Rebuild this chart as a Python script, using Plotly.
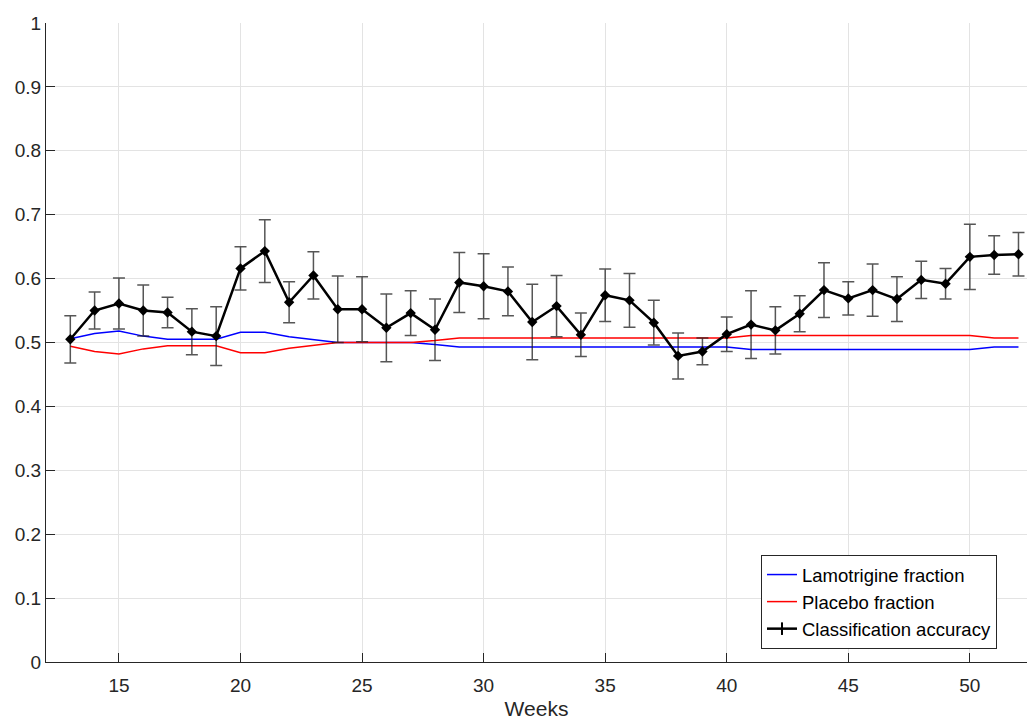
import plotly.graph_objects as go

# Study weeks
weeks = list(range(13, 53))

# Fraction of participants in each arm
lamotrigine_fraction = [
    0.506, 0.514, 0.518, 0.510, 0.505, 0.505, 0.505, 0.516, 0.516, 0.509,
    0.505, 0.500, 0.500, 0.500, 0.500, 0.497, 0.493, 0.493, 0.493, 0.493,
    0.493, 0.493, 0.493, 0.493, 0.493, 0.493, 0.493, 0.493, 0.489, 0.489,
    0.489, 0.489, 0.489, 0.489, 0.489, 0.489, 0.489, 0.489, 0.493, 0.493,
]
placebo_fraction = [
    0.494, 0.486, 0.482, 0.490, 0.495, 0.495, 0.495, 0.484, 0.484, 0.491,
    0.495, 0.500, 0.500, 0.500, 0.500, 0.503, 0.507, 0.507, 0.507, 0.507,
    0.507, 0.507, 0.507, 0.507, 0.507, 0.507, 0.507, 0.507, 0.511, 0.511,
    0.511, 0.511, 0.511, 0.511, 0.511, 0.511, 0.511, 0.511, 0.507, 0.507,
]

# Classification accuracy (mean and error-bar half width)
accuracy = [
    0.505, 0.550, 0.561, 0.550, 0.547, 0.517, 0.510, 0.616, 0.643, 0.563,
    0.605, 0.552, 0.552, 0.523, 0.546, 0.520, 0.594, 0.588, 0.580, 0.532,
    0.557, 0.512, 0.574, 0.566, 0.531, 0.479, 0.486, 0.513, 0.528, 0.519,
    0.545, 0.582, 0.569, 0.582, 0.568, 0.598, 0.592, 0.634, 0.637, 0.638,
]
accuracy_err = [
    0.037, 0.029, 0.040, 0.040, 0.024, 0.036, 0.046, 0.034, 0.049, 0.032,
    0.037, 0.052, 0.051, 0.053, 0.035, 0.048, 0.047, 0.051, 0.038, 0.059,
    0.048, 0.034, 0.041, 0.042, 0.035, 0.036, 0.021, 0.027, 0.053, 0.037,
    0.028, 0.043, 0.026, 0.041, 0.035, 0.029, 0.024, 0.051, 0.030, 0.034,
]

y_ticks = [0, 0.1, 0.2, 0.3, 0.4, 0.5, 0.6, 0.7, 0.8, 0.9, 1]
y_tick_text = ["0", "0.1", "0.2", "0.3", "0.4", "0.5", "0.6", "0.7", "0.8", "0.9", "1"]
x_ticks = [15, 20, 25, 30, 35, 40, 45, 50]

FONT = "Liberation Sans, Arial, Helvetica, sans-serif"
AXIS_COLOR = "#262626"

fig = go.Figure()

fig.add_trace(go.Scatter(
    x=weeks, y=lamotrigine_fraction, mode="lines",
    name="Lamotrigine fraction",
    line=dict(color="#0000ff", width=1.5),
))
fig.add_trace(go.Scatter(
    x=weeks, y=placebo_fraction, mode="lines",
    name="Placebo fraction",
    line=dict(color="#ff0000", width=1.5),
))
fig.add_trace(go.Scatter(
    x=weeks, y=accuracy, mode="lines+markers",
    name="Classification accuracy", showlegend=False,
    line=dict(color="black", width=2.5),
    marker=dict(symbol="diamond", size=8, color="black"),
    error_y=dict(type="data", array=accuracy_err, visible=True,
                 color="rgba(30,30,30,0.75)", thickness=1.5, width=6),
))
# legend entry: line with a small vertical tick
fig.add_trace(go.Scatter(
    x=[None], y=[None], mode="lines+markers",
    name="Classification accuracy",
    line=dict(color="black", width=2.5),
    marker=dict(symbol="line-ns", size=9, color="black",
                line=dict(color="black", width=2)),
))

fig.update_layout(
    width=1027, height=720,
    margin=dict(l=46, r=0, t=23, b=58),
    paper_bgcolor="white", plot_bgcolor="white",
    font=dict(family=FONT, size=19, color=AXIS_COLOR),
    showlegend=True,
    legend=dict(
        x=0.9694, y=0.0203, xanchor="right", yanchor="bottom",
        bgcolor="white", bordercolor=AXIS_COLOR, borderwidth=1,
        font=dict(family=FONT, size=18.5, color="black"),
        itemwidth=30, tracegroupgap=0,
    ),
    xaxis=dict(
        range=[12, 52.35], tickmode="array", tickvals=x_ticks,
        showgrid=True, gridcolor="#e3e3e3", gridwidth=1,
        showline=True, linecolor=AXIS_COLOR, linewidth=1,
        ticks="inside", ticklen=9, tickcolor=AXIS_COLOR, tickwidth=1,
        ticklabelstandoff=6,
        zeroline=False,
        title=dict(text="Weeks", font=dict(family=FONT, size=21, color=AXIS_COLOR), standoff=6),
    ),
    yaxis=dict(
        range=[0, 1], tickmode="array", tickvals=y_ticks, ticktext=y_tick_text,
        showgrid=True, gridcolor="#e3e3e3", gridwidth=1,
        showline=True, linecolor=AXIS_COLOR, linewidth=1,
        ticks="inside", ticklen=9, tickcolor=AXIS_COLOR, tickwidth=1,
        zeroline=False,
    ),
)

fig.write_html("out.html")
